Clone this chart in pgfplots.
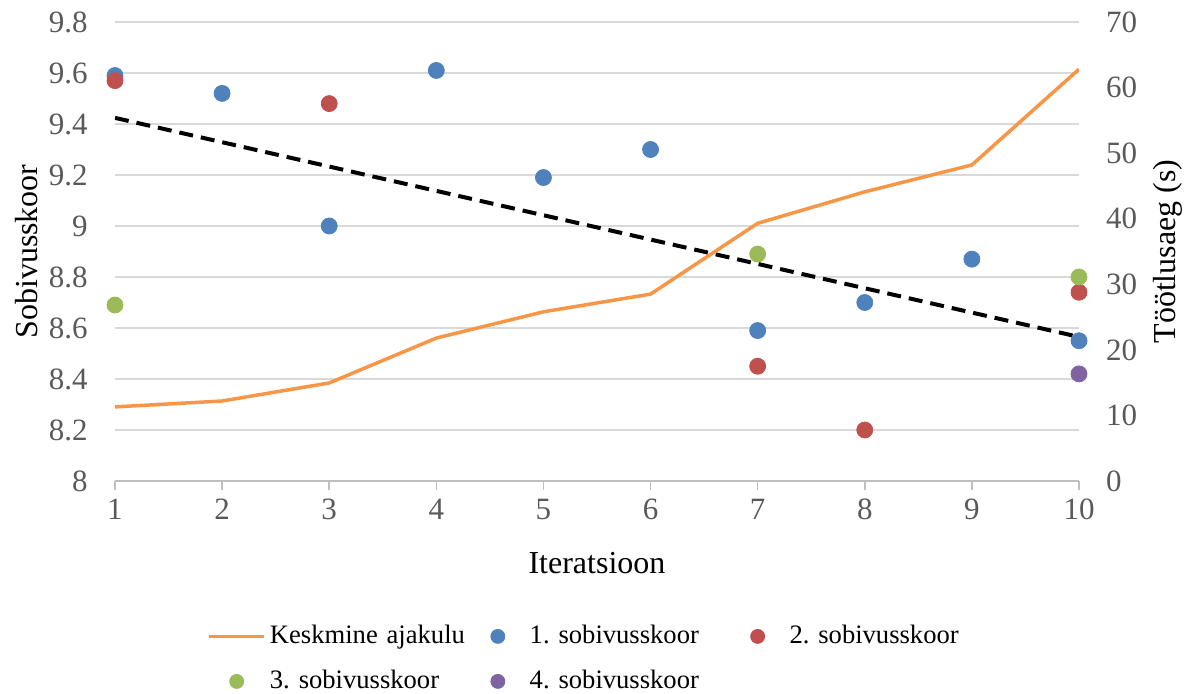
\documentclass[border=0pt]{standalone}
\usepackage{fontspec}
\setmainfont{Liberation Serif}
\usepackage{pgfplots}
\pgfplotsset{compat=1.18}
\definecolor{cblue}{HTML}{4F81BD}
\definecolor{cred}{HTML}{C0504D}
\definecolor{cgreen}{HTML}{9BBB59}
\definecolor{cpurple}{HTML}{8064A2}
\definecolor{corange}{HTML}{F79646}
\definecolor{ctick}{HTML}{595959}
\definecolor{cgrid}{HTML}{D9D9D9}
\definecolor{caxis}{HTML}{BFBFBF}
\frenchspacing
\begin{document}
\begin{tikzpicture}
\pgfplotsset{
  common/.style={
    at={(0,0)}, anchor=south west,
    scale only axis, width=482pt, height=229.5pt,
    xmin=1, xmax=10,
    tick label style={font=\fontsize{15.5}{18}\selectfont, color=ctick},
    /pgf/number format/assume math mode=true,
    label style={font=\fontsize{16}{19}\selectfont, color=black},
    tick align=outside, major tick length=4.5pt,
  }
}
\begin{axis}[common,
  ymin=8, ymax=9.8,
  ytick={8,8.2,8.4,8.6,8.8,9,9.2,9.4,9.6,9.8},
  xtick={1,2,3,4,5,6,7,8,9,10},
  axis x line*=bottom, axis y line*=left,
  y axis line style={draw=none},
  x axis line style={draw=caxis, line width=0.75pt, -},
  ytick style={draw=none},
  xtick style={draw=caxis, line width=0.75pt},
  ymajorgrids, grid style={draw=cgrid, line width=0.75pt},
  yticklabel style={anchor=east, xshift=-5.7pt},
  xticklabel style={yshift=-1pt},
  xlabel={Iteratsioon},
  xlabel style={at={(axis description cs:0.5,0)}, anchor=center, yshift=-41pt},
  ylabel={Sobivusskoor},
  ylabel style={at={([xshift=-44pt]axis description cs:0,0.5)}, anchor=center, rotate=0},
]
\addplot[black, line width=2pt, dash pattern=on 7pt off 4pt] coordinates {(1,9.424) (10,8.565)};
\addplot[only marks, mark=*, mark size=4pt, color=cblue] coordinates {
(1,9.59) (2,9.52) (3,9.00) (4,9.61) (5,9.19) (6,9.30) (7,8.59) (8,8.70) (9,8.87) (10,8.55)};
\addplot[only marks, mark=*, mark size=4pt, color=cred] coordinates {
(1,9.57) (3,9.48) (7,8.45) (8,8.20) (10,8.74)};
\addplot[only marks, mark=*, mark size=4pt, color=cgreen] coordinates {
(1,8.69) (7,8.89) (10,8.80)};
\addplot[only marks, mark=*, mark size=4pt, color=cpurple] coordinates {
(10,8.42)};
\end{axis}
\begin{axis}[common,
  ymin=0, ymax=70,
  ytick={0,10,20,30,40,50,60,70},
  axis x line=none, axis y line*=right,
  y axis line style={draw=none},
  ytick style={draw=none},
  yticklabel style={anchor=west, xshift=5.5pt},
  ylabel={Töötlusaeg (s)},
  ylabel style={at={([xshift=44.5pt]axis description cs:1,0.5)}, anchor=center, rotate=0},
  legend columns=3,
  legend cell align=left,
  legend image code/.code={\path (0pt,0pt) (27.5pt,0pt); \draw[mark repeat=2,mark phase=2,#1] plot coordinates {(0pt,0pt) (13.75pt,0pt) (27.5pt,0pt)};},
  legend style={at={(axis description cs:0.5,-0.3094)}, anchor=north, draw=none, inner sep=0pt,
    font=\fontsize{13.3}{16}\selectfont, column sep=1.5pt, row sep=9.5pt,
    nodes={text width=98pt, inner xsep=0.5pt, inner ysep=0pt, text height=10pt, text depth=3pt}},
]
\addplot[corange, line width=1.75pt] coordinates {
(1,11.3) (2,12.2) (3,14.95) (4,21.8) (5,25.8) (6,28.5) (7,39.3) (8,44.1) (9,48.2) (10,62.8)};
\addlegendentry{Keskmine ajakulu}
\addlegendimage{only marks, mark=*, mark size=3.5pt, color=cblue}
\addlegendentry{1. sobivusskoor}
\addlegendimage{only marks, mark=*, mark size=3.5pt, color=cred}
\addlegendentry{2. sobivusskoor}
\addlegendimage{only marks, mark=*, mark size=3.5pt, color=cgreen}
\addlegendentry{3. sobivusskoor}
\addlegendimage{only marks, mark=*, mark size=3.5pt, color=cpurple}
\addlegendentry{4. sobivusskoor}
\end{axis}
\pgfresetboundingbox
\path (-57.5pt,-106.5pt) rectangle (536.5pt,240.5pt);
\end{tikzpicture}
\end{document}
